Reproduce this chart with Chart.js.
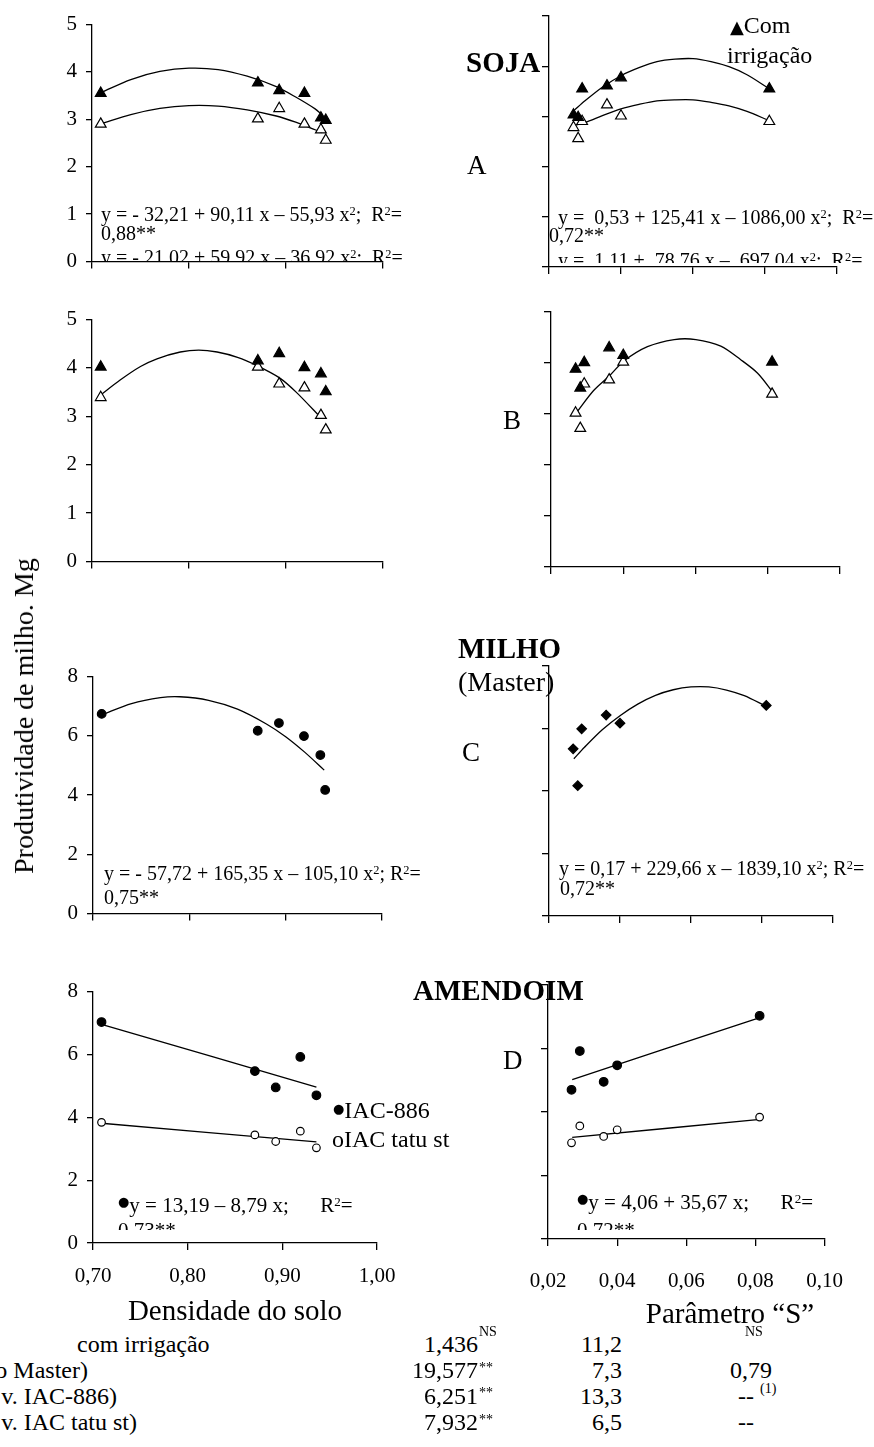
<!DOCTYPE html>
<html lang="pt">
<head>
<meta charset="utf-8">
<title>Produtividade, densidade do solo e parâmetro S</title>
<script src="https://cdn.jsdelivr.net/npm/chart.js@4.4.1/dist/chart.umd.min.js"></script>
<style>
  html, body { margin: 0; padding: 0; background: #fff; }
  #page { position: relative; width: 874px; height: 1447px; overflow: hidden;
          font-family: "Liberation Serif", "Times New Roman", serif; color: #000; }
  #page canvas { position: absolute; }
  .t { position: absolute; white-space: pre; line-height: 1; z-index: 2; }
  .b { font-weight: bold; }
  .clip { position: absolute; overflow: hidden; z-index: 2; }
  .sym { font-family: "DejaVu Sans", sans-serif; }
  .dot { font-family: "DejaVu Sans", sans-serif; font-size: 13px; position: relative; top: -5px; }
  .t sup { font-size: 0.62em; vertical-align: 0; position: relative; top: -0.5em; line-height: 0; }
  .ctr { text-align: center; }
  .rgt { text-align: right; }
</style>
</head>
<body>
<div id="page">
  <!-- SOJA -->
  <div class="t b" style="left:466px;top:48px;font-size:29px">SOJA</div>
  <div class="t" style="left:730px;top:13px;font-size:24px"><span class="sym" style="font-size:18px">▲</span>Com</div>
  <div class="t" style="left:727px;top:43px;font-size:24px">irrigação</div>
  <div class="t" style="left:467px;top:152px;font-size:27px">A</div>
  <div class="t" style="left:101px;top:204px;font-size:20px">y = - 32,21 + 90,11 x – 55,93 x<sup>2</sup>;  R<sup>2</sup>=</div>
  <div class="t" style="left:101px;top:223px;font-size:20px">0,88**</div>
  <div class="clip" style="left:101px;top:243px;width:340px;height:19px"><div class="t" style="left:0;top:4px;font-size:20px">y = - 21,02 + 59,92 x – 36,92 x<sup>2</sup>;  R<sup>2</sup>=</div></div>
  <div class="t" style="left:558px;top:207px;font-size:20px">y =  0,53 + 125,41 x – 1086,00 x<sup>2</sup>;  R<sup>2</sup>=</div>
  <div class="t" style="left:549px;top:225px;font-size:20px">0,72**</div>
  <div class="clip" style="left:558px;top:245px;width:316px;height:18px"><div class="t" style="left:0;top:5px;font-size:20px">y =  1,11 +  78,76 x –  697,04 x<sup>2</sup>;  R<sup>2</sup>=</div></div>
  <div class="t" style="left:503px;top:407px;font-size:27px">B</div>

  <!-- MILHO -->
  <div class="t b" style="left:458px;top:634px;font-size:29px">MILHO</div>
  <div class="t" style="left:458px;top:668px;font-size:28px">(Master)</div>
  <div class="t" style="left:462px;top:739px;font-size:27px">C</div>
  <div class="t" style="left:104px;top:863px;font-size:20px">y = - 57,72 + 165,35 x – 105,10 x<sup>2</sup>; R<sup>2</sup>=</div>
  <div class="t" style="left:104px;top:887px;font-size:20px">0,75**</div>
  <div class="t" style="left:559px;top:858px;font-size:20px">y = 0,17 + 229,66 x – 1839,10 x<sup>2</sup>; R<sup>2</sup>=</div>
  <div class="t" style="left:560px;top:878px;font-size:20px">0,72**</div>

  <!-- AMENDOIM -->
  <div class="t b" style="left:413px;top:976px;font-size:29px">AMENDOIM</div>
  <div class="t" style="left:503px;top:1047px;font-size:27px">D</div>
  <div class="t" style="left:333px;top:1098px;font-size:24px"><span class="dot">●</span>IAC-886</div>
  <div class="t" style="left:332px;top:1127px;font-size:24px">oIAC tatu st</div>
  <div class="t" style="left:118px;top:1195px;font-size:21px"><span class="dot" style="top:-6px">●</span>y = 13,19 – 8,79 x;      R<sup>2</sup>=</div>
  <div class="clip" style="left:118px;top:1218px;width:120px;height:12px"><div class="t" style="left:0;top:2px;font-size:21px">0,73**</div></div>
  <div class="t" style="left:577px;top:1192px;font-size:21px"><span class="dot" style="top:-6px">●</span>y = 4,06 + 35,67 x;      R<sup>2</sup>=</div>
  <div class="clip" style="left:577px;top:1218px;width:120px;height:12px"><div class="t" style="left:0;top:2px;font-size:21px">0,72**</div></div>

  <!-- axis titles -->
  <div class="t ctr" style="left:35px;width:400px;top:1296px;font-size:29px">Densidade do solo</div>
  <div class="t ctr" style="left:530px;width:400px;top:1299px;font-size:29px">Parâmetro “S”</div>
  <div class="t" style="left:24px;top:716px;font-size:28px;transform:translate(-50%,-50%) rotate(-90deg)">Produtividade de milho. Mg</div>

  <!-- table -->
  <div class="t" style="left:77px;top:1332px;font-size:24px">com irrigação</div>
  <div class="t rgt" style="right:786px;top:1358px;font-size:24px">o Master)</div>
  <div class="t rgt" style="right:757px;top:1384px;font-size:24px">v. IAC-886)</div>
  <div class="t rgt" style="right:737px;top:1410px;font-size:24px">v. IAC tatu st)</div>

  <div class="t rgt" style="right:396px;top:1332px;font-size:24px">1,436</div>
  <div class="t" style="left:479px;top:1325px;font-size:14px">NS</div>
  <div class="t rgt" style="right:396px;top:1358px;font-size:24px">19,577</div>
  <div class="t" style="left:479px;top:1361px;font-size:14px">**</div>
  <div class="t rgt" style="right:396px;top:1384px;font-size:24px">6,251</div>
  <div class="t" style="left:479px;top:1386px;font-size:14px">**</div>
  <div class="t rgt" style="right:396px;top:1410px;font-size:24px">7,932</div>
  <div class="t" style="left:479px;top:1413px;font-size:14px">**</div>

  <div class="t rgt" style="right:252px;top:1332px;font-size:24px">11,2</div>
  <div class="t rgt" style="right:252px;top:1358px;font-size:24px">7,3</div>
  <div class="t rgt" style="right:252px;top:1384px;font-size:24px">13,3</div>
  <div class="t rgt" style="right:252px;top:1410px;font-size:24px">6,5</div>

  <div class="t" style="left:745px;top:1325px;font-size:14px">NS</div>
  <div class="t" style="left:730px;top:1358px;font-size:24px">0,79</div>
  <div class="t" style="left:738px;top:1384px;font-size:24px">--</div>
  <div class="t" style="left:760px;top:1382px;font-size:14px">(1)</div>
  <div class="t" style="left:738px;top:1410px;font-size:24px">--</div>
</div>

<script>
// treatments: soil density and "S" parameter (same plots, same order)
const densidade = [0.709, 0.871, 0.893, 0.919, 0.936, 0.941];
const parametroS = [0.0812, 0.0400, 0.0361, 0.0292, 0.0268, 0.0281];

// yields, Mg ha-1
const sojaA_com = [3.55, 3.77, 3.61, 3.55, 3.03, 2.98];
const sojaA_sem = [2.90, 3.01, 3.23, 2.90, 2.78, 2.56];
const sojaB_com = [4.02, 4.15, 4.30, 4.01, 3.88, 3.51];
const sojaB_sem = [3.39, 4.02, 3.67, 3.59, 3.02, 2.72];
const milhoMaster = [6.74, 6.17, 6.43, 5.99, 5.35, 4.17];
const amendoim886 = [7.03, 5.47, 4.95, 5.92, 4.70];
const amendoimTatu = [3.84, 3.44, 3.23, 3.56, 3.03];

// fitted curves
const fitDensX = [0.71, 0.74, 0.77, 0.80, 0.83, 0.86, 0.89, 0.91, 0.93, 0.937];
const fitA_densCom = [3.57, 3.84, 4.01, 4.08, 4.05, 3.91, 3.69, 3.47, 3.22, 3.10];
const fitA_densSem = [2.91, 3.10, 3.23, 3.29, 3.28, 3.20, 3.07, 2.94, 2.78, 2.72];
const fitSX = [0.027, 0.030, 0.035, 0.040, 0.045, 0.050, 0.055, 0.060, 0.065, 0.070, 0.075, 0.081];
const fitA_SCom = [3.12, 3.31, 3.59, 3.81, 3.97, 4.09, 4.14, 4.15, 4.09, 3.99, 3.83, 3.56];
const fitA_SSem = [2.82, 2.88, 3.02, 3.15, 3.24, 3.31, 3.33, 3.33, 3.28, 3.21, 3.10, 2.92];
const fitB_densX = [0.707, 0.729, 0.750, 0.767, 0.791, 0.810, 0.829, 0.850, 0.870, 0.893, 0.911, 0.936];
const fitB_dens = [3.41, 3.75, 4.03, 4.19, 4.33, 4.37, 4.33, 4.22, 4.05, 3.80, 3.49, 2.97];
const fitB_SX = [0.0272, 0.0318, 0.0362, 0.0402, 0.0467, 0.0541, 0.0601, 0.0670, 0.0726, 0.0772, 0.0814];
const fitB_S = [3.04, 3.46, 3.75, 4.04, 4.32, 4.46, 4.46, 4.33, 4.06, 3.80, 3.43];
const fitC_densX = [0.71, 0.74, 0.77, 0.79, 0.82, 0.85, 0.88, 0.90, 0.92, 0.94];
const fitC_dens = [6.72, 7.09, 7.29, 7.32, 7.20, 6.90, 6.40, 5.97, 5.44, 4.84];
const fitC_S = [5.03, 5.40, 5.96, 6.41, 6.78, 7.06, 7.24, 7.33, 7.33, 7.23, 7.05, 6.72];
const fitD_densX = [0.709, 0.936];
const fitD_dens886 = [6.96, 4.96];
const fitD_densTatu = [3.81, 3.22];
const fitD_SX = [0.027, 0.0806];
const fitD_S886 = [5.02, 6.95];
const fitD_STatu = [3.20, 3.76];

const SERIF = '"Liberation Serif", "Times New Roman", serif';
const page = document.getElementById('page');

function pts(xs, ys) {
  return ys.map((y, i) => ({ x: xs[i], y: y }));
}

function marks(xs, ys, style, fill, r) {
  return {
    data: pts(xs, ys), showLine: false, order: 0,
    pointStyle: style, pointRadius: r, pointHoverRadius: r,
    pointBackgroundColor: fill, pointBorderColor: '#000', pointBorderWidth: 1.2
  };
}

function curve(xs, ys) {
  return {
    data: pts(xs, ys), showLine: true, order: 1, fill: false,
    pointRadius: 0, borderColor: '#000', borderWidth: 1.3, tension: 0.3
  };
}

function panel(box, o) {
  const YW = 60, PT = 14, PR = 34;
  const XH = o.xLabels ? 64 : 14;
  const w = Math.round(box.r - box.l) + YW + PR;
  const h = Math.round(box.b - box.t) + PT + XH;
  const cv = document.createElement('canvas');
  cv.width = w; cv.height = h;
  cv.style.left = (Math.round(box.l) - YW) + 'px';
  cv.style.top = (Math.round(box.t) - PT) + 'px';
  cv.style.width = w + 'px';
  cv.style.height = h + 'px';
  page.appendChild(cv);

  new Chart(cv, {
    type: 'scatter',
    data: { datasets: o.datasets },
    options: {
      responsive: false,
      animation: false,
      devicePixelRatio: 1,
      layout: { padding: { top: PT, right: PR, left: 0, bottom: 0 } },
      plugins: { legend: { display: false }, tooltip: { enabled: false } },
      scales: {
        x: {
          type: 'linear', min: o.xMin, max: o.xMax,
          afterFit: s => { s.height = XH; },
          ticks: {
            stepSize: o.xStep, display: !!o.xLabels, autoSkip: false, maxRotation: 0,
            padding: o.xPad || 14, color: '#000',
            font: { family: SERIF, size: 21 },
            callback: v => v.toFixed(2).replace('.', ',')
          },
          grid: { drawOnChartArea: false, tickLength: 7, color: '#000', lineWidth: 1.3 },
          border: { color: '#000', width: 1.3 }
        },
        y: {
          min: 0, max: o.yMax,
          afterFit: s => { s.width = YW; },
          ticks: {
            stepSize: o.yStep, display: !!o.yLabels, autoSkip: false,
            padding: 9, color: '#000',
            font: { family: SERIF, size: 21 },
            callback: v => String(v)
          },
          grid: { drawOnChartArea: false, tickLength: o.yLabels ? 6 : 7, color: '#000', lineWidth: 1.3 },
          border: { color: '#000', width: 1.3 }
        }
      }
    }
  });
}

const densAxis = { xMin: 0.70, xMax: 1.00, xStep: 0.1, yLabels: true };
const sAxis = { xMin: 0.02, xMax: 0.10, xStep: 0.02, yLabels: false };

// A - soja
panel({ l: 92, r: 383, t: 17, b: 269 }, Object.assign({}, densAxis, {
  yMax: 5, yStep: 1,
  datasets: [
    marks(densidade, sojaA_com, 'triangle', '#000', 6.2),
    marks(densidade, sojaA_sem, 'triangle', '#fff', 6.2),
    curve(fitDensX, fitA_densCom),
    curve(fitDensX, fitA_densSem)
  ]
}));
panel({ l: 549, r: 837, t: 16, b: 267 }, Object.assign({}, sAxis, {
  yMax: 5, yStep: 1,
  datasets: [
    marks(parametroS, sojaA_com, 'triangle', '#000', 6.2),
    marks(parametroS, sojaA_sem, 'triangle', '#fff', 6.2),
    curve(fitSX, fitA_SCom),
    curve(fitSX, fitA_SSem)
  ]
}));

// B - soja
panel({ l: 92, r: 383, t: 312, b: 569 }, Object.assign({}, densAxis, {
  yMax: 5, yStep: 1,
  datasets: [
    marks(densidade, sojaB_com, 'triangle', '#000', 6.2),
    marks(densidade, sojaB_sem, 'triangle', '#fff', 6.2),
    curve(fitB_densX, fitB_dens)
  ]
}));
panel({ l: 551, r: 840, t: 312, b: 567 }, Object.assign({}, sAxis, {
  yMax: 5, yStep: 1,
  datasets: [
    marks(parametroS, sojaB_com, 'triangle', '#000', 6.2),
    marks(parametroS, sojaB_sem, 'triangle', '#fff', 6.2),
    curve(fitB_SX, fitB_S)
  ]
}));

// C - milho
panel({ l: 93, r: 382, t: 669, b: 921 }, Object.assign({}, densAxis, {
  yMax: 8, yStep: 2,
  datasets: [
    marks(densidade, milhoMaster, 'circle', '#000', 4.3),
    curve(fitC_densX, fitC_dens)
  ]
}));
panel({ l: 549, r: 833, t: 666, b: 916 }, Object.assign({}, sAxis, {
  yMax: 8, yStep: 2,
  datasets: [
    marks(parametroS, milhoMaster, 'rectRot', '#000', 4.8),
    curve(fitSX, fitC_S)
  ]
}));

// D - amendoim
panel({ l: 93, r: 377, t: 984, b: 1243 }, Object.assign({}, densAxis, {
  yMax: 8, yStep: 2, xLabels: true, xPad: 14,
  datasets: [
    marks(densidade.slice(0, 5), amendoim886, 'circle', '#000', 4.3),
    marks(densidade.slice(0, 5), amendoimTatu, 'circle', '#fff', 3.8),
    curve(fitD_densX, fitD_dens886),
    curve(fitD_densX, fitD_densTatu)
  ]
}));
panel({ l: 548, r: 832, t: 985, b: 1239 }, Object.assign({}, sAxis, {
  yMax: 8, yStep: 2, xLabels: true, xPad: 23,
  datasets: [
    marks(parametroS.slice(0, 5), amendoim886, 'circle', '#000', 4.3),
    marks(parametroS.slice(0, 5), amendoimTatu, 'circle', '#fff', 3.8),
    curve(fitD_SX, fitD_S886),
    curve(fitD_SX, fitD_STatu)
  ]
}));
</script>
</body>
</html>
